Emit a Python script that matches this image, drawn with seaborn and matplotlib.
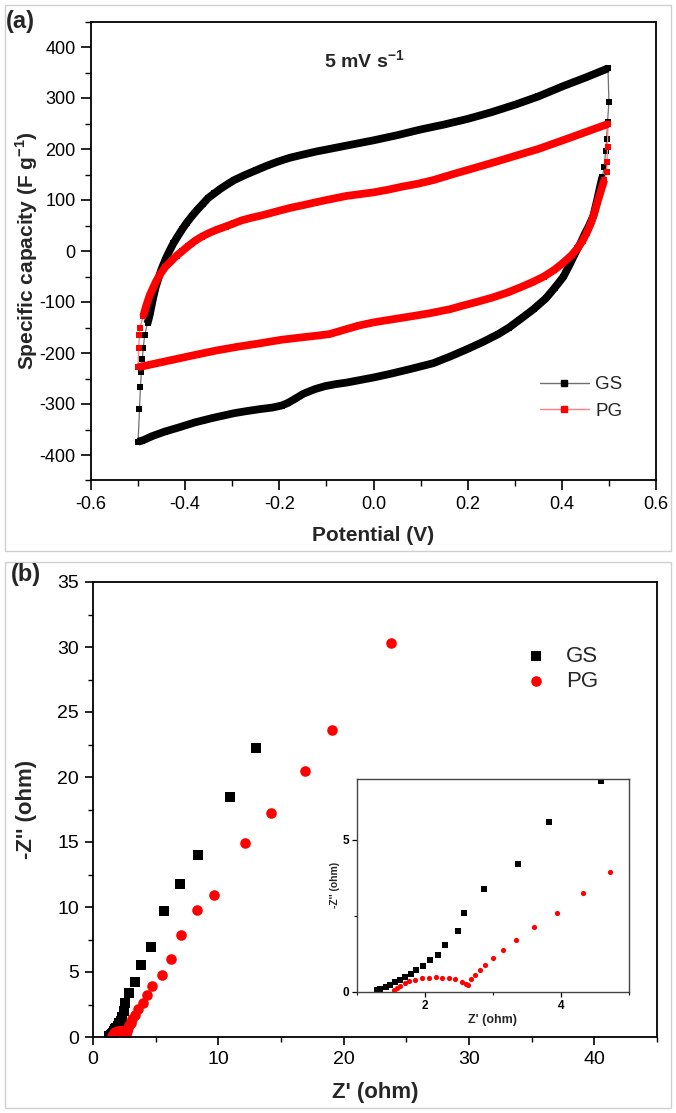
import numpy as np
import pandas as pd
import seaborn as sns
import matplotlib.pyplot as plt
from matplotlib.lines import Line2D
from matplotlib.patches import Rectangle
from matplotlib.ticker import MultipleLocator

# ---- (a) CV loops at 5 mV/s ----
# GS (black)
gs_left_x = [-0.500, -0.497, -0.495, -0.493, -0.491, -0.489, -0.486]
gs_left_y = [-374, -310, -267, -237, -211, -190, -165]
gs_upper_x = [-0.480, -0.476, -0.472, -0.468, -0.463, -0.457, -0.450, -0.442, -0.434, -0.425,
              -0.415, -0.406, -0.397, -0.386, -0.375, -0.363, -0.351, -0.338, -0.325, -0.310,
              -0.296, -0.273, -0.250, -0.227, -0.204, -0.177, -0.150, -0.122, -0.094, -0.050,
              0.000, 0.050, 0.099, 0.150, 0.200, 0.250, 0.301, 0.350, 0.402, 0.450,
              0.498]
gs_upper_y = [-142, -128, -110, -92, -72, -54, -35, -17, -1, 15,
              30, 43, 55, 68, 80, 92, 104, 113, 122, 131,
              139, 149, 158, 167, 175, 183, 189, 195, 200, 208,
              217, 227, 238, 248, 259, 272, 287, 303, 323, 340,
              358]
gs_right_x = [0.500, 0.497, 0.495, 0.493, 0.490]
gs_right_y = [293, 252, 220, 196, 165]
gs_lower_x = [0.486, 0.481, 0.475, 0.467, 0.458, 0.449, 0.440, 0.430, 0.417, 0.403,
              0.385, 0.366, 0.340, 0.310, 0.288, 0.265, 0.233, 0.200, 0.165, 0.127,
              0.080, 0.035, 0.000, -0.057, -0.080, -0.103, -0.125, -0.149, -0.167, -0.182,
              -0.195, -0.215, -0.241, -0.270, -0.296, -0.340, -0.379, -0.410, -0.443, -0.470,
              -0.489, -0.500]
gs_lower_y = [145, 125, 100, 69, 50, 34, 16, -1, -26, -51,
              -72, -93, -114, -135, -150, -163, -178, -192, -206, -220,
              -231, -241, -248, -258, -261, -265, -271, -280, -290, -298,
              -303, -307, -310, -314, -318, -327, -336, -345, -354, -363,
              -371, -374]

# PG (red)
pg_left_x = [-0.500, -0.499, -0.497, -0.496]
pg_left_y = [-228, -190, -165, -150]
pg_upper_x = [-0.489, -0.483, -0.475, -0.468, -0.462, -0.452, -0.442, -0.430, -0.418, -0.406,
              -0.393, -0.379, -0.365, -0.350, -0.332, -0.314, -0.297, -0.280, -0.260, -0.241,
              -0.220, -0.200, -0.175, -0.149, -0.125, -0.100, -0.057, 0.000, 0.030, 0.060,
              0.095, 0.127, 0.170, 0.219, 0.260, 0.310, 0.350, 0.402, 0.450, 0.498]
pg_upper_y = [-128, -108, -86, -72, -60, -44, -31, -20, -9, 0,
              10, 20, 28, 35, 42, 48, 54, 60, 65, 69,
              74, 79, 85, 90, 95, 100, 108, 115, 120, 126,
              132, 139, 151, 164, 175, 189, 200, 217, 233, 249]
pg_right_x = [0.497, 0.496, 0.495]
pg_right_y = [203, 175, 154]
pg_lower_x = [0.490, 0.483, 0.476, 0.470, 0.462, 0.453, 0.444, 0.433, 0.421, 0.403,
              0.384, 0.362, 0.338, 0.310, 0.283, 0.250, 0.219, 0.190, 0.163, 0.120,
              0.081, 0.040, 0.000, -0.030, -0.057, -0.075, -0.094, -0.120, -0.149, -0.195,
              -0.241, -0.290, -0.333, -0.380, -0.425, -0.465, -0.500]
pg_lower_y = [139, 118, 97, 77, 55, 36, 20, 5, -8, -23,
              -37, -50, -61, -72, -82, -92, -100, -107, -114, -122,
              -128, -134, -140, -146, -153, -158, -163, -166, -169, -174,
              -181, -188, -195, -204, -213, -221, -228]

# ---- (b) Nyquist plots ----
gs_zre = [1.29, 1.34, 1.42, 1.49, 1.56, 1.64, 1.71, 1.79, 1.87, 1.97,
          2.08, 2.20, 2.30, 2.49, 2.57, 2.87, 3.37, 3.83, 4.59, 5.69,
          6.97, 8.38, 10.97, 13.00]
gs_zim = [0.06, 0.10, 0.16, 0.23, 0.32, 0.39, 0.48, 0.58, 0.72, 0.84,
          1.04, 1.23, 1.53, 2.00, 2.60, 3.38, 4.21, 5.57, 6.92, 9.70,
          11.80, 14.00, 18.50, 22.20]
pg_zre = [1.55, 1.59, 1.64, 1.71, 1.77, 1.86, 1.96, 2.06, 2.16, 2.25,
          2.35, 2.45, 2.55, 2.60, 2.64, 2.68, 2.74, 2.81, 2.89, 3.00,
          3.15, 3.34, 3.61, 3.95, 4.33, 4.72, 5.52, 6.24, 7.03, 8.31,
          9.69, 12.14, 14.24, 16.90, 19.10, 23.79]
pg_zim = [0.06, 0.12, 0.21, 0.28, 0.36, 0.41, 0.45, 0.47, 0.48, 0.47,
          0.45, 0.42, 0.34, 0.27, 0.24, 0.43, 0.57, 0.72, 0.89, 1.11,
          1.38, 1.71, 2.15, 2.61, 3.24, 3.95, 4.79, 6.00, 7.82, 9.76,
          10.93, 14.90, 17.23, 20.50, 23.60, 30.29]

sns.set_theme(style="ticks")
plt.rcParams.update({
    "font.family": ["Liberation Sans", "DejaVu Sans"],
    "axes.unicode_minus": False,
    "mathtext.fontset": "custom",
    "mathtext.rm": "Liberation Sans",
    "mathtext.bf": "Liberation Sans:bold",
    "axes.linewidth": 1.3,
    "axes.edgecolor": "black",
    "xtick.color": "black",
    "ytick.color": "black",
    "xtick.direction": "out",
    "ytick.direction": "out",
})

W, H = 676, 1113
fig = plt.figure(figsize=(W / 100, H / 100), dpi=100)

# light grey frames around the two panels
for top, bot in [(5, 551), (562, 1108)]:
    fig.patches.append(Rectangle((5 / W, 1 - bot / H), 666 / W, (bot - top) / H,
                                 transform=fig.transFigure, fill=False,
                                 ec="#cfcfcf", lw=1.0))

ax_a = fig.add_axes([91 / W, 1 - 480.5 / H, 565 / W, 459 / H])
ax_b = fig.add_axes([93 / W, 1 - 1037 / H, 564 / W, 455 / H])
ax_in = fig.add_axes([357 / W, 1 - 992 / H, 271.6 / W, 213.2 / H])


def cv_loop(ax, left, upper, right, lower, line_c, mark_c):
    loop_x = left[0] + upper[0] + right[0] + lower[0]
    loop_y = left[1] + upper[1] + right[1] + lower[1]
    sns.lineplot(x=loop_x, y=loop_y, ax=ax, sort=False, estimator=None,
                 color=line_c, lw=0.9, marker="s", ms=4.2,
                 mfc=mark_c, mec=mark_c, mew=0)
    for bx, by in (upper, lower):
        sns.lineplot(x=bx, y=by, ax=ax, sort=False, estimator=None,
                     color=mark_c, lw=5.6, solid_capstyle="butt",
                     solid_joinstyle="round")


# ---- panel (a) ----
cv_loop(ax_a, (gs_left_x, gs_left_y), (gs_upper_x, gs_upper_y),
        (gs_right_x, gs_right_y), (gs_lower_x, gs_lower_y), "#707070", "black")
cv_loop(ax_a, (pg_left_x, pg_left_y), (pg_upper_x, pg_upper_y),
        (pg_right_x, pg_right_y), (pg_lower_x, pg_lower_y), "#ff8080", "red")

ax_a.set_xlim(-0.6, 0.6)
ax_a.set_ylim(-450, 450)
ax_a.xaxis.set_major_locator(MultipleLocator(0.2))
ax_a.xaxis.set_minor_locator(MultipleLocator(0.1))
ax_a.yaxis.set_major_locator(MultipleLocator(100))
ax_a.yaxis.set_minor_locator(MultipleLocator(50))
ax_a.xaxis.set_major_formatter(plt.FuncFormatter(lambda v, p: f"{v:.1f}"))
ax_a.tick_params(which="major", length=7, width=1.2, labelsize=13, pad=4)
ax_a.tick_params(which="minor", length=4, width=1.0)
ax_a.set_xlabel("Potential (V)", fontsize=15, fontweight="bold")
ax_a.set_ylabel(r"Specific capacity (F g$^{\mathbf{-1}}$)", fontsize=15, fontweight="bold")
ax_a.xaxis.set_label_coords(0.5, -0.099)
ax_a.yaxis.set_label_coords(-0.09, 0.5)
ax_a.text(-0.02, 372, r"5 mV s$^{\mathbf{-1}}$", fontsize=14, fontweight="bold",
          ha="center", va="center")

handles = [Line2D([], [], color="#707070", lw=1.0, marker="s", ms=4.5, mfc="black", mec="black"),
           Line2D([], [], color="#ff8080", lw=1.0, marker="s", ms=4.5, mfc="red", mec="red")]
ax_a.legend(handles, ["GS", "PG"], loc="center left", bbox_to_anchor=(0.765, 0.18),
            frameon=False, fontsize=13.5, handlelength=2.6, handletextpad=0.35,
            labelspacing=0.5)

# ---- panel (b) ----
for ax, s_sq, s_ci in [(ax_b, 44, 58), (ax_in, 14, 14)]:
    sns.scatterplot(x=gs_zre, y=gs_zim, ax=ax, marker="s", s=s_sq, color="black",
                    linewidth=0, label="GS" if ax is ax_b else None, legend=False)
    sns.scatterplot(x=pg_zre, y=pg_zim, ax=ax, marker="o", s=s_ci, color="red",
                    linewidth=0, label="PG" if ax is ax_b else None, legend=False)

ax_b.set_xlim(0, 45)
ax_b.set_ylim(0, 35)
ax_b.xaxis.set_major_locator(MultipleLocator(10))
ax_b.xaxis.set_minor_locator(MultipleLocator(5))
ax_b.yaxis.set_major_locator(MultipleLocator(5))
ax_b.yaxis.set_minor_locator(MultipleLocator(2.5))
ax_b.tick_params(which="major", length=6, width=1.2, labelsize=14, pad=4)
ax_b.tick_params(which="minor", length=3.5, width=1.0)
ax_b.set_xlabel("Z' (ohm)", fontsize=16, fontweight="bold")
ax_b.set_ylabel("-Z'' (ohm)", fontsize=16, fontweight="bold")
ax_b.xaxis.set_label_coords(0.5, -0.099)
ax_b.yaxis.set_label_coords(-0.099, 0.5)
ax_b.legend(loc="center left", bbox_to_anchor=(0.73, 0.809), frameon=False,
            fontsize=16, handlelength=1.0, handletextpad=0.85, labelspacing=0.2)

ax_in.set_xlim(1, 5)
ax_in.set_ylim(0, 7)
ax_in.xaxis.set_major_locator(MultipleLocator(2))
ax_in.xaxis.set_minor_locator(MultipleLocator(1))
ax_in.yaxis.set_major_locator(MultipleLocator(5))
ax_in.yaxis.set_minor_locator(MultipleLocator(2.5))
for sp in ax_in.spines.values():
    sp.set_linewidth(1.0)
    sp.set_color("#444444")
ax_in.tick_params(which="major", length=3.5, width=0.9, labelsize=8.5, pad=2)
ax_in.tick_params(which="minor", length=2.5, width=0.8)
for lab in ax_in.get_xticklabels() + ax_in.get_yticklabels():
    lab.set_fontweight("bold")
ax_in.set_xlabel("Z' (ohm)", fontsize=9, fontweight="bold", labelpad=2)
ax_in.set_ylabel("-Z'' (ohm)", fontsize=7.5, fontweight="bold", labelpad=2)

fig.text(6 / W, 1 - 10 / H, "(a)", fontsize=17, fontweight="bold", ha="left", va="top")
fig.text(11 / W, 1 - 563 / H, "(b)", fontsize=17, fontweight="bold", ha="left", va="top")

fig.savefig("out.png", dpi=100)
